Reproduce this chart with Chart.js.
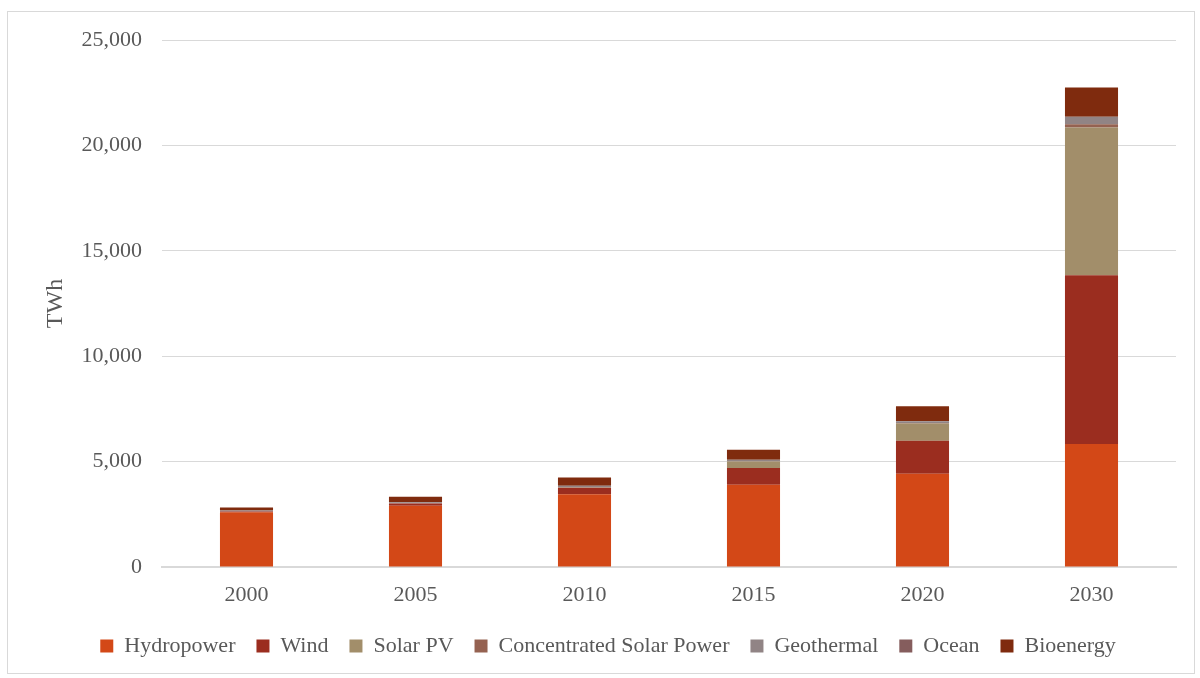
<!DOCTYPE html>
<html>
<head>
<meta charset="utf-8">
<script src="https://cdn.jsdelivr.net/npm/chart.js@4"></script>
<style>
  html, body { margin: 0; padding: 0; background: #ffffff; }
  #wrap { position: relative; width: 1200px; height: 678px; }
</style>
</head>
<body>
<div id="wrap"><canvas id="chart" width="1200" height="678"></canvas></div>
<script>
// Renewable electricity generation by source (TWh)
const years = ['2000', '2005', '2010', '2015', '2020', '2030'];

const hydropower = [2600, 2910, 3455, 3897, 4420, 5832];
const wind       = [31, 104, 300, 794, 1568, 8013];
const solarPV    = [1, 4, 32, 314, 822, 7006];
const csp        = [1, 1, 2, 10, 20, 157];
const geothermal = [52, 58, 70, 70, 90, 347];
const ocean      = [1, 1, 1, 1, 1, 5];
const bioenergy  = [140, 250, 380, 475, 699, 1392];

const yTicks = [0, 5000, 10000, 15000, 20000, 25000];

const FONT = "'Liberation Serif', 'DejaVu Serif', serif";
const TEXT = '#595959';

function series(label, data, color) {
  return { label, data, backgroundColor: color, borderWidth: 0, stack: 'total' };
}

// thin frame around the whole chart
const framePlugin = {
  id: 'frame',
  afterDraw(chart) {
    const ctx = chart.ctx;
    ctx.save();
    ctx.strokeStyle = '#d9d9d9';
    ctx.lineWidth = 1;
    ctx.strokeRect(7.5, 11.5, 1187, 662);
    ctx.restore();
  }
};

new Chart(document.getElementById('chart'), {
  type: 'bar',
  data: {
    labels: years,
    datasets: [
      series('Hydropower', hydropower, '#D34817'),
      series('Wind', wind, '#9B2D1F'),
      series('Solar PV', solarPV, '#A28E6A'),
      series('Concentrated Solar Power', csp, '#956251'),
      series('Geothermal', geothermal, '#918485'),
      series('Ocean', ocean, '#855D5D'),
      series('Bioenergy', bioenergy, '#7F2B0E')
    ]
  },
  options: {
    responsive: false,
    animation: false,
    devicePixelRatio: 1,
    datasets: { bar: { barPercentage: 0.314, categoryPercentage: 1.0 } },
    layout: { padding: { left: 40, right: 24, top: 40, bottom: 11 } },
    scales: {
      x: {
        stacked: true,
        grid: { display: false, drawTicks: false },
        border: { display: true, color: '#d9d9d9', width: 2 },
        ticks: { color: TEXT, font: { family: FONT, size: 22 }, padding: 15 },
        afterFit(scale) { scale.height = 47; }
      },
      y: {
        stacked: true,
        min: 0,
        max: 25000,
        afterBuildTicks(scale) { scale.ticks = yTicks.map(v => ({ value: v })); },
        grid: { color: '#d9d9d9', lineWidth: 1, drawTicks: false },
        border: { display: false },
        ticks: {
          color: TEXT,
          font: { family: FONT, size: 22 },
          padding: 20,
          callback: v => v.toLocaleString('en-US')
        },
        title: {
          display: true,
          text: 'TWh',
          color: TEXT,
          font: { family: FONT, size: 24 },
          padding: { top: 1, bottom: 0 }
        },
        afterFit(scale) { scale.width = 122; }
      }
    },
    plugins: {
      legend: {
        position: 'bottom',
        labels: {
          color: TEXT,
          font: { family: FONT, size: 22 },
          boxWidth: 13,
          boxHeight: 13,
          padding: 21
        }
      },
      tooltip: { enabled: false }
    }
  },
  plugins: [framePlugin]
});
</script>
</body>
</html>
